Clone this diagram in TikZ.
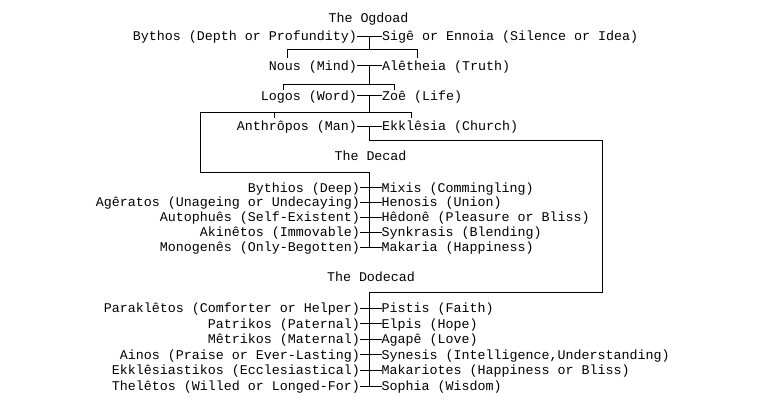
\documentclass[tikz,border=0pt]{standalone}
\usepackage{fontspec}
\newfontfamily\mono{Liberation Mono}
\tikzset{
  lbl/.style={font=\mono\fontsize{13.33}{16}\selectfont, inner sep=0pt, text height=11pt, text depth=2pt},
  lft/.style={lbl, anchor=east},
  rgt/.style={lbl, anchor=west},
  ttl/.style={lbl},
  ln/.style={line width=1pt}
}
\begin{document}
\begin{tikzpicture}[x=1pt,y=-1pt]
\useasboundingbox[fill=white] (0,0) rectangle (778,408);

% ---- The Ogdoad ----
\node[ttl] (ogdoad) at (368.5,18) {The Ogdoad};
\node[lft] (bythos) at (357,36) {Bythos (Depth or Profundity)};
\node[rgt] (sige) at (382,36) {Sigê or Ennoia (Silence or Idea)};
\node[lft] (nous) at (357,65.5) {Nous (Mind)};
\node[rgt] (aletheia) at (382,65.5) {Alêtheia (Truth)};
\node[lft] (logos) at (357,95.5) {Logos (Word)};
\node[rgt] (zoe) at (382,95.5) {Zoê (Life)};
\node[lft] (anthropos) at (357,126) {Anthrôpos (Man)};
\node[rgt] (ekklesia) at (382,126) {Ekklêsia (Church)};

\coordinate (t1) at (369.5,36);
\coordinate (b1) at (369.5,49);
\coordinate (t2) at (369.5,65.5);
\coordinate (b2) at (369.5,84.5);
\coordinate (t3) at (369.5,95.5);
\coordinate (b3) at (369.5,112);
\coordinate (t4) at (369.5,126);
\coordinate (b4) at (369.5,140.5);

\draw[ln] (bythos.east) -- (sige.west);
\draw[ln] (nous.east) -- (aletheia.west);
\draw[ln] (logos.east) -- (zoe.west);
\draw[ln] (anthropos.east) -- (ekklesia.west);

\draw[ln] (t1) -- (b1);
\draw[ln] (287,58) -- (287,49) -- (417,49) -- (417,58);
\draw[ln] (t2) -- (b2);
\draw[ln] (283,90) -- (283,84.5) -- (394,84.5) -- (394,90);
\draw[ln] (t3) -- (b3);
\draw[ln] (411.5,118) -- (411.5,112) -- (200,112) -- (200,172) -- (369.5,172) -- (369.5,247);
\draw[ln] (274,112) -- (274,118);
\draw[ln] (t4) -- (b4) -- (602,140.5) -- (602,292.5) -- (369.5,292.5) -- (369.5,386);

% ---- The Decad ----
\node[ttl] (decad) at (370.5,156) {The Decad};
\node[lft] (bythios) at (360,187.5) {Bythios (Deep)};
\node[rgt] (mixis) at (381.5,187.5) {Mixis (Commingling)};
\node[lft] (ageratos) at (360,202) {Agêratos (Unageing or Undecaying)};
\node[rgt] (henosis) at (381.5,202) {Henosis (Union)};
\node[lft] (autophues) at (360,217) {Autophuês (Self-Existent)};
\node[rgt] (hedone) at (381.5,217) {Hêdonê (Pleasure or Bliss)};
\node[lft] (akinetos) at (360,232) {Akinêtos (Immovable)};
\node[rgt] (synkrasis) at (381.5,232) {Synkrasis (Blending)};
\node[lft] (monogenes) at (360,247) {Monogenês (Only-Begotten)};
\node[rgt] (makaria) at (381.5,247) {Makaria (Happiness)};

\foreach \a/\b in {bythios/mixis, ageratos/henosis, autophues/hedone, akinetos/synkrasis, monogenes/makaria}
  \draw[ln] (\a.east) -- (\b.west);

% ---- The Dodecad ----
\node[ttl] (dodecad) at (371,277) {The Dodecad};
\node[lft] (parakletos) at (360,308) {Paraklêtos (Comforter or Helper)};
\node[rgt] (pistis) at (381.5,308) {Pistis (Faith)};
\node[lft] (patrikos) at (360,323.5) {Patrikos (Paternal)};
\node[rgt] (elpis) at (381.5,323.5) {Elpis (Hope)};
\node[lft] (metrikos) at (360,339) {Mêtrikos (Maternal)};
\node[rgt] (agape) at (381.5,339) {Agapê (Love)};
\node[lft] (ainos) at (360,354.5) {Ainos (Praise or Ever-Lasting)};
\node[rgt] (synesis) at (381.5,354.5) {Synesis (Intelligence,Understanding)};
\node[lft] (ekklesiastikos) at (360,370) {Ekklêsiastikos (Ecclesiastical)};
\node[rgt] (makariotes) at (381.5,370) {Makariotes (Happiness or Bliss)};
\node[lft] (theletos) at (360,386) {Thelêtos (Willed or Longed-For)};
\node[rgt] (sophia) at (381.5,386) {Sophia (Wisdom)};

\foreach \a/\b in {parakletos/pistis, patrikos/elpis, metrikos/agape, ainos/synesis, ekklesiastikos/makariotes, theletos/sophia}
  \draw[ln] (\a.east) -- (\b.west);
\end{tikzpicture}
\end{document}
